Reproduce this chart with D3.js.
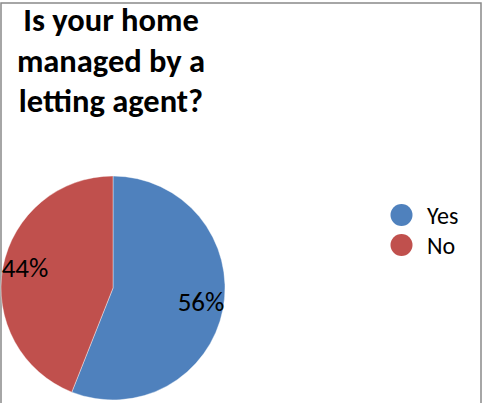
<!DOCTYPE html>
<html>
<head>
<meta charset="utf-8">
<script src="https://cdn.jsdelivr.net/npm/d3@7"></script>
<style>
  html, body { margin: 0; padding: 0; background: #fff; }
  svg { display: block; }
  text { font-family: Carlito, Calibri, Lato, "Liberation Sans", sans-serif; fill: #000; }
</style>
</head>
<body>
<svg id="chart" width="483" height="403"></svg>
<script>
const titleLines = ["Is your home", "managed by a", "letting agent?"];
const categories = ["Yes", "No"];
const values = [56, 44];
const colors = ["#4F81BD", "#C0504D"];

const svg = d3.select("#chart");

// chart border
svg.append("rect")
  .attr("x", 1).attr("y", 3)
  .attr("width", 480).attr("height", 430)
  .attr("fill", "#fff")
  .attr("stroke", "#898989")
  .attr("stroke-width", 1.5);

// title
const title = svg.append("text")
  .attr("text-anchor", "middle")
  .attr("font-weight", "bold")
  .attr("font-size", 32.5);
titleLines.forEach((t, i) => {
  title.append("tspan").attr("x", 111).attr("y", 31 + i * 40.5).text(t);
});

// pie
const cx = 113, cy = 288, r = 112;
const pie = d3.pie().sort(null).value(d => d.value);
const arcs = pie(categories.map((c, i) => ({ cat: c, value: values[i] })));
const arc = d3.arc().innerRadius(0).outerRadius(r);
const labelArc = d3.arc().innerRadius(r * 0.8).outerRadius(r * 0.8);
const color = d3.scaleOrdinal().domain(categories).range(colors);

const g = svg.append("g").attr("transform", `translate(${cx},${cy})`);
g.selectAll("path").data(arcs).enter().append("path")
  .attr("d", arc)
  .attr("fill", d => color(d.data.cat))
  .attr("stroke", "#fff")
  .attr("stroke-width", 0.4);

const total = d3.sum(values);
g.selectAll("text.lbl").data(arcs).enter().append("text")
  .attr("class", "lbl")
  .attr("text-anchor", "middle")
  .attr("font-size", 27)
  .attr("x", d => labelArc.centroid(d)[0])
  .attr("y", d => labelArc.centroid(d)[1] + 6)
  .text(d => Math.round(d.data.value / total * 100) + "%");

// legend
const leg = svg.append("g");
const legY = d3.scalePoint().domain(categories).range([215, 245]);
categories.forEach(c => {
  leg.append("circle")
    .attr("cx", 401.5).attr("cy", legY(c)).attr("r", 11)
    .attr("fill", color(c));
  leg.append("text")
    .attr("x", 427).attr("y", legY(c) + 8.5)
    .attr("font-size", 24)
    .text(c);
});
</script>
</body>
</html>
